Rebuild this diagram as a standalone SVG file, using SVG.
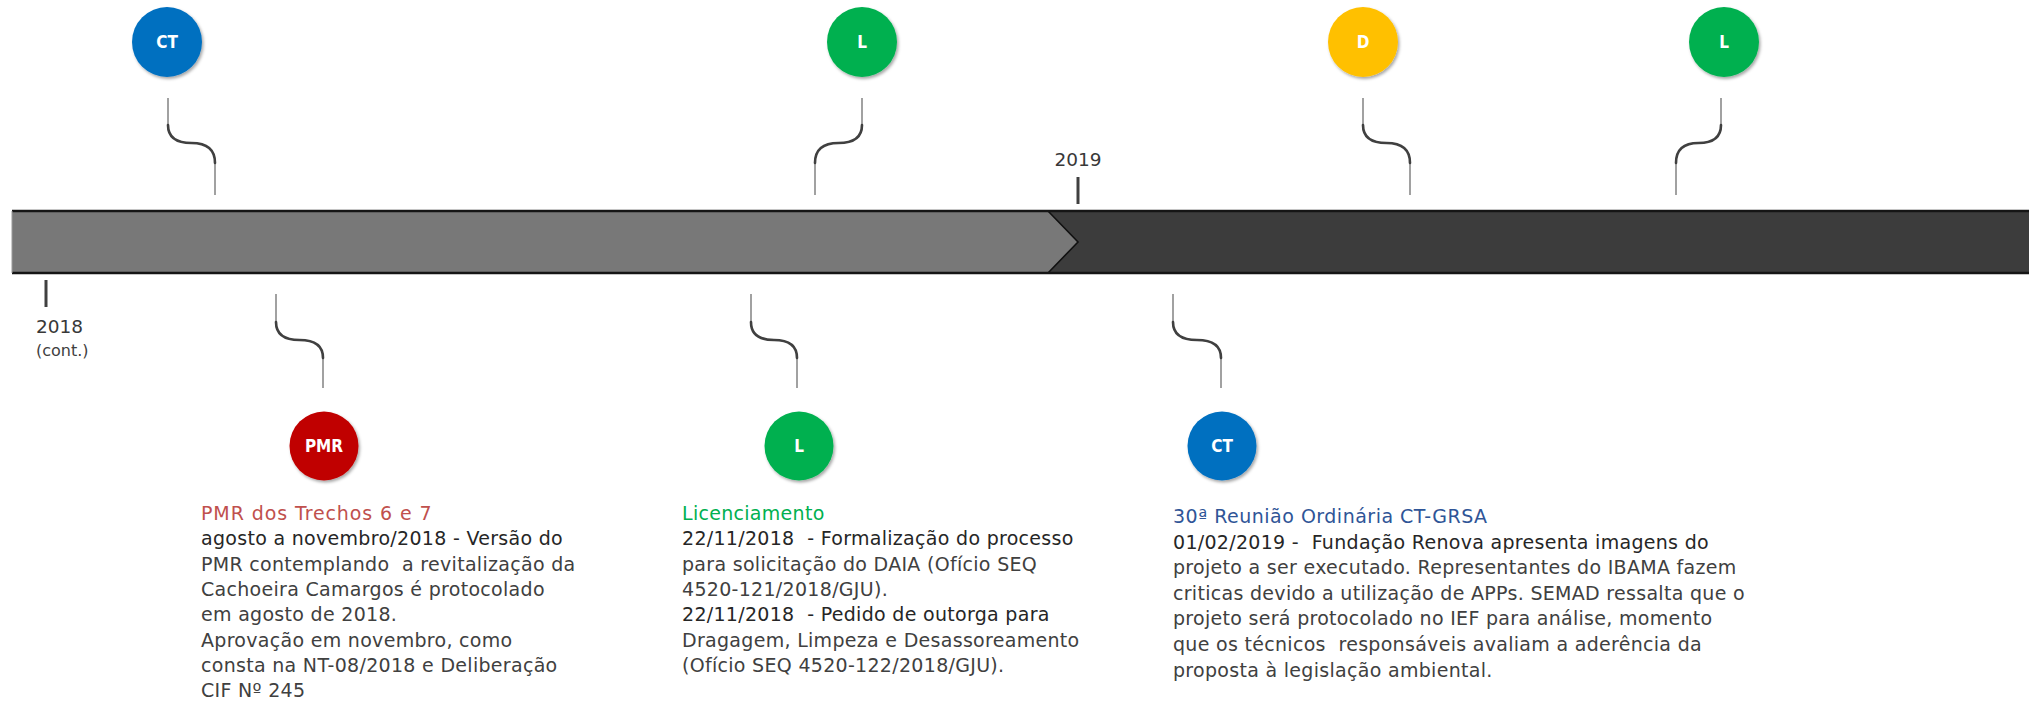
<svg xmlns="http://www.w3.org/2000/svg" width="2035" height="702" viewBox="0 0 2035 702">
<defs>
<filter id="sh" x="-30%" y="-30%" width="160%" height="160%">
<feDropShadow dx="1.5" dy="2" stdDeviation="1.5" flood-color="#000" flood-opacity="0.35"/>
</filter>
<style>
.c-ct{fill:#0070C0}
.c-l{fill:#00B050}
.c-d{fill:#FFC000}
.c-pmr{fill:#C00000}
.lab{font-family:"DejaVu Sans Condensed","DejaVu Sans",sans-serif;font-size:17px;font-weight:bold;fill:#fff;text-anchor:middle}
.thin{fill:none;stroke:#8a8a8a;stroke-width:1.6}
.curve{fill:none;stroke:#404040;stroke-width:2.6;stroke-linecap:round}
.yr{font-family:"DejaVu Sans",sans-serif;font-size:18.5px;fill:#383838}
.yrs{font-family:"DejaVu Sans",sans-serif;font-size:16px;fill:#404040}
.tick{stroke:#404040;stroke-width:3}
.body{font-family:"DejaVu Sans",sans-serif;font-size:19px;letter-spacing:0.3px;fill:#404040}
.dk{fill:#262626}
.t-pmr{fill:#C0504D;letter-spacing:0.9px}
.t-l{fill:#00B050}
.t-ct{fill:#2F5597;letter-spacing:0.5px}
</style>
</defs>

<g id="timeline">
<rect x="12" y="211" width="2017" height="62" fill="#3C3C3C"/>
<polygon points="12,211 1048,211 1078,242 1048,273 12,273" fill="#787878"/>
<polyline points="1048,211 1078,242 1048,273" fill="none" stroke="#111" stroke-width="1.6"/>
<line x1="12" y1="211" x2="2029" y2="211" stroke="#151515" stroke-width="2.5"/>
<line x1="12" y1="273" x2="2029" y2="273" stroke="#151515" stroke-width="2.5"/>
<line x1="12" y1="211" x2="12" y2="273" stroke="#999" stroke-width="1"/>
</g>

<g id="year-2018">
<line class="tick" x1="46" y1="280" x2="46" y2="307"/>
<text class="yr" x="36" y="333">2018</text>
<text class="yrs" x="36" y="356">(cont.)</text>
</g>
<g id="year-2019">
<line class="tick" x1="1078" y1="177" x2="1078" y2="204"/>
<text class="yr" x="1078" y="166" text-anchor="middle">2019</text>
</g>

<g id="connectors">
<path class="thin" d="M168,98 V125 M215,163 V195"/>
<path class="curve" d="M168,125 Q168,143 191.5,143 Q215,143 215,163"/>
<path class="thin" d="M862,98 V125 M815,163 V195"/>
<path class="curve" d="M862,125 Q862,143 838.5,143 Q815,143 815,163"/>
<path class="thin" d="M1363,98 V125 M1410,163 V195"/>
<path class="curve" d="M1363,125 Q1363,143 1386.5,143 Q1410,143 1410,163"/>
<path class="thin" d="M1721,98 V125 M1676,163 V195"/>
<path class="curve" d="M1721,125 Q1721,143 1698.5,143 Q1676,143 1676,163"/>
<path class="thin" d="M276,294 V322 M323,358 V388"/>
<path class="curve" d="M276,322 Q276,340 299.5,340 Q323,340 323,358"/>
<path class="thin" d="M751,294 V322 M797,358 V388"/>
<path class="curve" d="M751,322 Q751,340 774,340 Q797,340 797,358"/>
<path class="thin" d="M1173,294 V322 M1221,358 V388"/>
<path class="curve" d="M1173,322 Q1173,340 1197,340 Q1221,340 1221,358"/>
</g>

<g id="node-ct-top">
<circle class="c-ct" cx="167" cy="42" r="35" filter="url(#sh)"/>
<text class="lab" x="167" y="48">CT</text>
</g>
<g id="node-l-top">
<circle class="c-l" cx="862" cy="42" r="35" filter="url(#sh)"/>
<text class="lab" x="862" y="48">L</text>
</g>
<g id="node-d-top">
<circle class="c-d" cx="1363" cy="42" r="35" filter="url(#sh)"/>
<text class="lab" x="1363" y="48">D</text>
</g>
<g id="node-l-top2">
<circle class="c-l" cx="1724" cy="42" r="35" filter="url(#sh)"/>
<text class="lab" x="1724" y="48">L</text>
</g>

<g id="node-pmr">
<circle class="c-pmr" cx="324" cy="446" r="34.5" filter="url(#sh)"/>
<text class="lab" x="324" y="452">PMR</text>
<text class="body" x="201" y="520"><tspan class="t-pmr">PMR dos Trechos 6 e 7</tspan><tspan class="dk" x="201" dy="25.3">agosto a novembro/2018 - Versão do</tspan><tspan x="201" dy="25.3">PMR contemplando&#160; a revitalização da</tspan><tspan x="201" dy="25.3">Cachoeira Camargos é protocolado</tspan><tspan x="201" dy="25.3">em agosto de 2018.</tspan><tspan x="201" dy="25.3">Aprovação em novembro, como</tspan><tspan x="201" dy="25.3">consta na NT-08/2018 e Deliberação</tspan><tspan x="201" dy="25.3">CIF Nº 245</tspan></text>
</g>

<g id="node-l-bottom">
<circle class="c-l" cx="799" cy="446" r="34.5" filter="url(#sh)"/>
<text class="lab" x="799" y="452">L</text>
<text class="body" x="682" y="520"><tspan class="t-l">Licenciamento</tspan><tspan class="dk" x="682" dy="25.3">22/11/2018&#160; - Formalização do processo</tspan><tspan x="682" dy="25.3">para solicitação do DAIA (Ofício SEQ</tspan><tspan x="682" dy="25.3">4520-121/2018/GJU).</tspan><tspan class="dk" x="682" dy="25.3">22/11/2018&#160; - Pedido de outorga para</tspan><tspan x="682" dy="25.3">Dragagem, Limpeza e Desassoreamento</tspan><tspan x="682" dy="25.3">(Ofício SEQ 4520-122/2018/GJU).</tspan></text>
</g>

<g id="node-ct-bottom">
<circle class="c-ct" cx="1222" cy="446" r="34.5" filter="url(#sh)"/>
<text class="lab" x="1222" y="452">CT</text>
<text class="body" x="1173" y="523"><tspan class="t-ct">30ª Reunião Ordinária CT-GRSA</tspan><tspan class="dk" x="1173" dy="25.6">01/02/2019 -&#160; Fundação Renova apresenta imagens do</tspan><tspan x="1173" dy="25.6">projeto a ser executado. Representantes do IBAMA fazem</tspan><tspan x="1173" dy="25.6">criticas devido a utilização de APPs. SEMAD ressalta que o</tspan><tspan x="1173" dy="25.6">projeto será protocolado no IEF para análise, momento</tspan><tspan x="1173" dy="25.6">que os técnicos&#160; responsáveis avaliam a aderência da</tspan><tspan x="1173" dy="25.6">proposta à legislação ambiental.</tspan></text>
</g>
</svg>
